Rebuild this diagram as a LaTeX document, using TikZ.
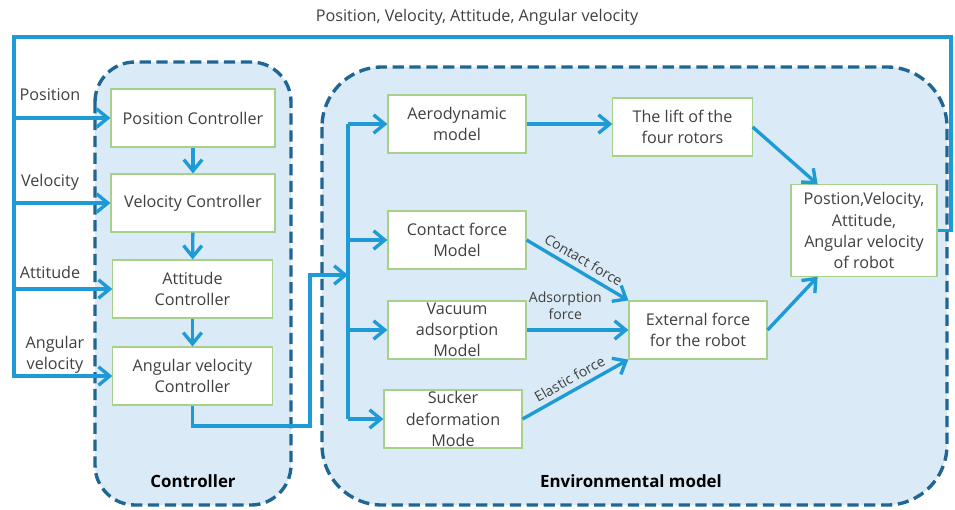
\documentclass[tikz,border=0pt]{standalone}
\usepackage{fontspec}
\setmainfont{Open Sans}
\usetikzlibrary{arrows.meta,calc}
\definecolor{flowblue}{RGB}{30,155,215}
\definecolor{groupblue}{RGB}{31,102,148}
\definecolor{groupfill}{RGB}{218,234,246}
\definecolor{boxgreen}{RGB}{168,208,141}
\definecolor{textgrey}{RGB}{64,64,64}
\begin{document}
\begin{tikzpicture}[x=0.025cm,y=-0.025cm,
        box/.style={draw=boxgreen,line width=0.8pt,fill=white,text=textgrey,align=center,
            minimum width=3.45cm,minimum height=1.45cm,inner sep=1pt,font=\fontsize{11.5}{15}\selectfont},
        flow/.style={draw=flowblue,line width=2.4pt},
        arrow/.style={flow,-{Straight Barb[length=2.8mm,width=4.6mm]}},
        group/.style={draw=groupblue,fill=groupfill,line width=2.4pt,dash pattern=on 8pt off 4pt},
        lbl/.style={text=textgrey,align=center,font=\fontsize{11.5}{15}\selectfont},
        tag/.style={text=textgrey,align=center,font=\fontsize{10}{11.5}\selectfont,inner sep=3.5pt},
        title/.style={font=\fontsize{12}{14}\selectfont\bfseries}]
        \useasboundingbox (0,0) rectangle (955,509);

        % the two dashed groups
        \draw[group,rounded corners=1cm] (95,62) rectangle (291,505);
        \draw[group,rounded corners=1.5cm] (322,67) rectangle (947,505);
        \node[title] (ctrltitle) at (193,481){Controller};
        \node[title] (envtitle) at (631,481){Environmental model};

        % controller
        \node[box,minimum width=4.1cm] (posc) at (193,118){Position Controller};
        \node[box,minimum width=4.1cm] (velc) at (193,203){Velocity Controller};
        \node[box,minimum width=3.98cm] (attc) at (192.5,289){Attitude\\Controller};
        \node[box,minimum width=3.98cm] (angc) at (192.5,376){Angular velocity\\Controller};

        \foreach \a/\b in {posc/velc,velc/attc,attc/angc}
            {
                \draw[arrow] (\a) -- (\b);
            }

        % environmental model
        \node[box] (aero) at (457,124){Aerodynamic\\model};
        \node[box] (cont) at (457,240){Contact force\\Model};
        \node[box] (vac) at (457,330){Vacuum\\adsorption\\Model};
        \node[box] (suck) at (453,419){Sucker\\deformation\\Mode};
        \node[box,minimum width=3.48cm] (lift) at (682.5,127){The lift of the\\four rotors};
        \node[box] (ext) at (698,330){External force\\for the robot};
        \node[box,minimum width=3.65cm,minimum height=2.28cm] (outp) at (864,230.5){Postion,Velocity,\\Attitude,\\Angular velocity\\of robot};

        \coordinate (hop) at (310,426);
        \coordinate (split) at (348,275);
        \draw[arrow] (angc.south) |- (hop) |- (split);
        \draw[flow] (split |- aero) -- (split |- suck);
        \foreach \n in {aero,cont,vac,suck}
            {
                \draw[arrow] (split |- \n.west) -- (\n.west);
            }

        \draw[arrow] (aero.east) -- (aero.east -| lift.west);
        \draw[arrow] (lift.east) -- ([xshift=0.68cm]outp.north west);
        \draw[arrow] (cont.east) -- (ext.north west)
            node[tag,midway,anchor=south,rotate=-30.5]{Contact force};
        \draw[arrow] (vac.east) -- (ext.west)
            node[tag,pos=0.38,above=3pt]{Adsorption\\force};
        \draw[arrow] (suck.east) -- (ext.south west)
            node[tag,midway,anchor=south,rotate=29.5]{Elastic force};
        \draw[arrow] (ext.east) -- ([xshift=0.68cm]outp.south west);

        % feedback
        \coordinate (fbr) at (951,37);
        \coordinate (fbl) at (14,37);
        \draw[arrow] (outp.east) -| (fbr) -- (fbl) |- (angc.west);
        \foreach \n in {posc,velc,attc}
            {
                \draw[arrow] (fbl |- \n.west) -- (\n.west);
            }

        \node[lbl] (fbtext) at (477,17){Position, Velocity, Attitude, Angular velocity};
        \node[lbl] (posl) at (50,95){Position};
        \node[lbl] (vell) at (50,182){Velocity};
        \node[lbl] (attl) at (50,272){Attitude};
        \node[lbl] (angl) at (55,355){Angular\\velocity};
    \end{tikzpicture}
\end{document}
